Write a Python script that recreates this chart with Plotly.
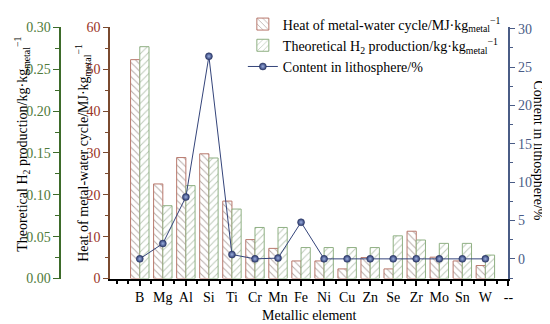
import plotly.graph_objects as go

categories = ["B", "Mg", "Al", "Si", "Ti", "Cr", "Mn", "Fe", "Ni", "Cu", "Zn", "Se", "Zr", "Mo", "Sn", "W", "--"]
heat = [52.3, 22.6, 28.9, 29.8, 18.5, 9.3, 7.2, 4.2, 4.2, 2.3, 5.0, 2.3, 11.3, 5.1, 4.2, 3.1, None]
h2 = [0.277, 0.087, 0.111, 0.144, 0.083, 0.061, 0.061, 0.037, 0.037, 0.037, 0.037, 0.051, 0.046, 0.042, 0.042, 0.028, None]
content = [0.0, 2.0, 8.06, 26.4, 0.57, 0.0, 0.1, 4.77, 0.0, 0.0, 0.0, 0.0, 0.02, 0.0, 0.0, 0.0, None]

xpos = list(range(len(categories)))
FONT = "Liberation Serif"
W, H = 550, 324
GREEN = "#3d6b2a"
GREEN_T = "#4f7a3a"
BROWN = "#7a4a2f"
RED_T = "#9a3326"
BLUE = "#4a5c86"

fig = go.Figure()
fig.add_trace(go.Bar(
    x=xpos, y=heat, width=0.4, offset=-0.4, yaxis="y",
    name="Heat of metal-water cycle/MJ·kg<sub>metal</sub><sup>−1</sup>",
    marker=dict(color="white", line=dict(color="#b8786c", width=1),
                pattern=dict(shape="\\", fgcolor="#6e5650", bgcolor="white", size=5, solidity=0.2)),
))
fig.add_trace(go.Bar(
    x=xpos, y=h2, width=0.4, offset=0.0, yaxis="y2",
    name="Theoretical H<sub>2</sub> production/kg·kg<sub>metal</sub><sup>−1</sup>",
    marker=dict(color="white", line=dict(color="#8fb083", width=1),
                pattern=dict(shape="/", fgcolor="#7a9372", bgcolor="white", size=5, solidity=0.2)),
))
fig.add_trace(go.Scatter(
    x=xpos, y=content, yaxis="y3", mode="lines+markers",
    name="Content in lithosphere/%",
    line=dict(color="#34447a", width=1),
    marker=dict(size=7, color="#2c3a70", line=dict(color="#24305a", width=0.5),
                gradient=dict(type="radial", color="#9aaede")),
))

ydom = [(H - 276) / H, (H - 11) / H]
tickfont = dict(family=FONT, size=14)

fig.update_layout(
    width=W, height=H,
    margin=dict(l=0, r=0, t=0, b=0),
    paper_bgcolor="white", plot_bgcolor="white",
    font=dict(family=FONT, size=14, color="black"),
    showlegend=True,
    legend=dict(x=237 / W, y=1 + 9 / H, xanchor="left", yanchor="top",
                bgcolor="rgba(0,0,0,0)", font=dict(family=FONT, size=14),
                tracegroupgap=0, itemwidth=30),
    xaxis=dict(domain=[103 / W, 505 / W], range=[-1.29, 16],
               tickvals=xpos, ticktext=categories, tickfont=tickfont,
               showline=True, linecolor="black", linewidth=2,
               ticks="outside", ticklen=5, tickcolor="black", tickwidth=1.5,
               minor=dict(dtick=0.5, tick0=0.5, ticks="outside", ticklen=3, tickcolor="black"),
               showgrid=False, zeroline=False,
               title=dict(text="Metallic element", font=dict(family=FONT, size=14), standoff=6)),
    yaxis=dict(domain=ydom, range=[0, 60], anchor="x", side="left",
               tickvals=[0, 10, 20, 30, 40, 50, 60], tickfont=dict(family=FONT, size=14, color=RED_T),
               showline=True, linecolor=BROWN, linewidth=1.5,
               ticks="outside", ticklen=5, tickcolor=BROWN,
               minor=dict(dtick=5, ticks="outside", ticklen=3, tickcolor=BROWN),
               showgrid=False, zeroline=False),
    yaxis2=dict(domain=ydom, range=[0, 0.30], overlaying="y", anchor="free", position=52.7 / W, side="left",
                tickvals=[0, 0.05, 0.10, 0.15, 0.20, 0.25, 0.30], tickformat=".2f",
                tickfont=dict(family=FONT, size=14, color=GREEN_T),
                showline=True, linecolor=GREEN, linewidth=1.5,
                ticks="outside", ticklen=6, tickcolor=GREEN,
                minor=dict(dtick=0.025, ticks="outside", ticklen=4, tickcolor=GREEN),
                showgrid=False, zeroline=False),
    yaxis3=dict(domain=ydom, range=[-2.56, 30.16], overlaying="y", anchor="x", side="right",
                tickvals=[0, 5, 10, 15, 20, 25, 30], tickfont=dict(family=FONT, size=14, color=BLUE),
                showline=True, linecolor=BLUE, linewidth=1.5,
                ticks="outside", ticklen=5, tickcolor=BLUE,
                minor=dict(dtick=2.5, tick0=0, ticks="outside", ticklen=3, tickcolor=BLUE),
                showgrid=False, zeroline=False),
    annotations=[
        dict(text="Theoretical H<sub>2</sub> production/kg·kg<sub>metal</sub><sup>−1</sup>",
             x=14 / W, y=1 - 134 / H, xref="paper", yref="paper", textangle=-90,
             xanchor="center", yanchor="middle",
             showarrow=False, font=dict(family=FONT, size=14, color="black")),
        dict(text="Heat of metal-water cycle/MJ·kg<sub>metal</sub><sup>−1</sup>",
             x=76 / W, y=1 - 143 / H, xref="paper", yref="paper", textangle=-90,
             xanchor="center", yanchor="middle",
             showarrow=False, font=dict(family=FONT, size=14, color="black")),
        dict(text="Content in lithosphere/%",
             x=535 / W, y=1 - 141 / H, xref="paper", yref="paper", textangle=90,
             xanchor="center", yanchor="middle",
             showarrow=False, font=dict(family=FONT, size=14, color="black")),
    ],
)

fig.write_html("out.html")
